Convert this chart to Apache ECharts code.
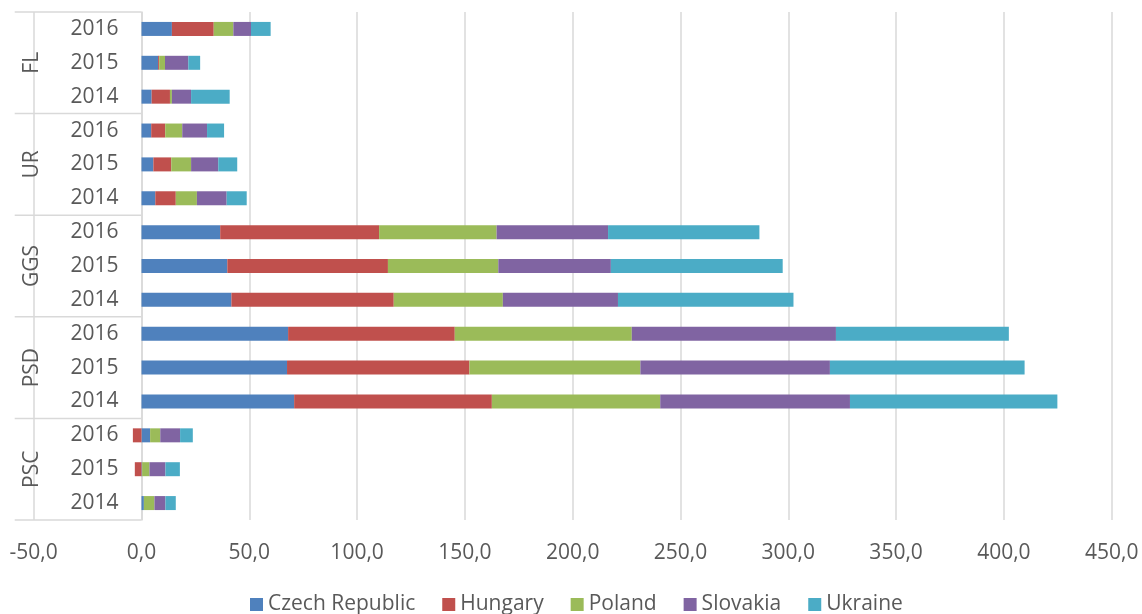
<!DOCTYPE html>
<html>
<head>
<meta charset="utf-8">
<script src="https://cdn.jsdelivr.net/npm/echarts@6/dist/echarts.min.js"></script>
<style>
  html, body { margin: 0; padding: 0; background: #fff; }
  #chart { width: 1142px; height: 614px; }
</style>
</head>
<body>
<div id="chart"></div>
<script>
// Groups listed bottom-to-top, years within each group bottom-to-top
const groups = ['PSC', 'PSD', 'GGS', 'UR', 'FL'];
const years = ['2014', '2015', '2016'];

// Values per country, in the same order: PSC 2014..2016, PSD, GGS, UR, FL
const czechRepublic = [1.1, 0.3, 4.0, 70.8, 67.5, 68.0, 41.7, 39.8, 36.5, 6.4, 5.5, 4.5, 4.7, 7.7, 14.1];
const hungary       = [0, -3.1, -4.0, 91.7, 84.6, 77.3, 75.3, 74.5, 73.7, 9.5, 8.3, 6.5, 8.5, 0.5, 19.4];
const poland        = [4.9, 3.4, 4.7, 78.1, 79.3, 82.1, 50.6, 51.2, 54.5, 9.8, 9.2, 7.9, 0.9, 2.7, 9.1];
const slovakia      = [5.1, 7.4, 9.2, 88.0, 87.9, 94.7, 53.4, 52.2, 51.7, 13.8, 12.6, 11.5, 8.9, 10.8, 8.2];
const ukraine       = [4.8, 6.7, 5.9, 96.2, 90.3, 80.2, 81.4, 79.7, 70.2, 9.3, 8.8, 7.9, 17.9, 5.5, 9.1];

const seriesNames = ['Czech Republic', 'Hungary', 'Poland', 'Slovakia', 'Ukraine'];
const seriesValues = [czechRepublic, hungary, poland, slovakia, ukraine];
const seriesColors = ['#4F81BD', '#C0504D', '#9BBB59', '#8064A2', '#4BACC6'];

const xMin = -50, xMax = 450, xStep = 50;

const categories = [];
groups.forEach(g => years.forEach(y => categories.push(y + '|' + g)));

const FONT = "'Open Sans', sans-serif";
const FONT_SIZE = 21;
const TEXT = '#595959';
const GRID_LINE = '#d9d9d9';

const gridLeft = 33.7, gridRight = 30.3;
const plotWidth = 1142 - gridLeft - gridRight;
// category axis sits on the value 0
const zeroOffset = plotWidth * (0 - xMin) / (xMax - xMin);

const chart = echarts.init(document.getElementById('chart'), null, { renderer: 'canvas' });

const option = {
  animation: false,
  backgroundColor: '#ffffff',
  grid: {
    left: gridLeft, right: gridRight, top: 12, bottom: 94,
    containLabel: false, outerBoundsMode: 'none'
  },
  legend: {
    bottom: -6,
    left: 245,
    itemWidth: 13,
    itemHeight: 13,
    itemGap: 27,
    icon: 'rect',
    textStyle: { fontFamily: FONT, fontSize: FONT_SIZE, color: TEXT },
    data: seriesNames
  },
  xAxis: {
    type: 'value',
    min: xMin,
    max: xMax,
    interval: xStep,
    axisLine: { show: false },
    axisTick: { show: false },
    splitLine: { show: true, lineStyle: { color: GRID_LINE, width: 1.5 } },
    axisLabel: {
      fontFamily: FONT, fontSize: FONT_SIZE, color: TEXT, margin: 23,
      formatter: v => v.toFixed(1).replace('.', ',')
    }
  },
  yAxis: {
    type: 'category',
    data: categories,
    offset: -zeroOffset,
    axisLine: { show: true, onZero: false, lineStyle: { color: GRID_LINE, width: 1.5 } },
    axisTick: { show: false },
    axisLabel: {
      fontFamily: FONT, fontSize: FONT_SIZE, color: TEXT, margin: 23,
      formatter: v => v.split('|')[0]
    }
  },
  series: seriesNames.map((name, i) => ({
    name: name,
    type: 'bar',
    stack: 'total',
    barWidth: 14,
    itemStyle: { color: seriesColors[i] },
    data: seriesValues[i]
  }))
};

chart.setOption(option);

// Group separators and rotated group names for the two-level category column
const xLeft = chart.convertToPixel({ xAxisIndex: 0 }, xMin);
const xZero = chart.convertToPixel({ xAxisIndex: 0 }, 0);
const yOf = i => chart.convertToPixel({ yAxisIndex: 0 }, categories[i]);
const band = Math.abs(yOf(0) - yOf(1));
const graphics = [];
for (let g = 0; g <= groups.length; g++) {
  const idx = g * years.length;
  const y = idx < categories.length ? yOf(idx) + band / 2 : yOf(categories.length - 1) - band / 2;
  graphics.push({
    type: 'line',
    shape: { x1: xLeft - 19, y1: y, x2: xZero, y2: y },
    style: { stroke: GRID_LINE, lineWidth: 1.5 },
    z: 5
  });
}
groups.forEach((name, g) => {
  const yc = (yOf(g * years.length) + yOf(g * years.length + years.length - 1)) / 2;
  graphics.push({
    type: 'text',
    x: xLeft - 2,
    y: yc,
    rotation: Math.PI / 2,
    style: {
      text: name, fill: TEXT, font: FONT_SIZE + 'px ' + FONT,
      align: 'center', verticalAlign: 'middle'
    },
    z: 10
  });
});
chart.setOption({ graphic: graphics });
</script>
</body>
</html>
